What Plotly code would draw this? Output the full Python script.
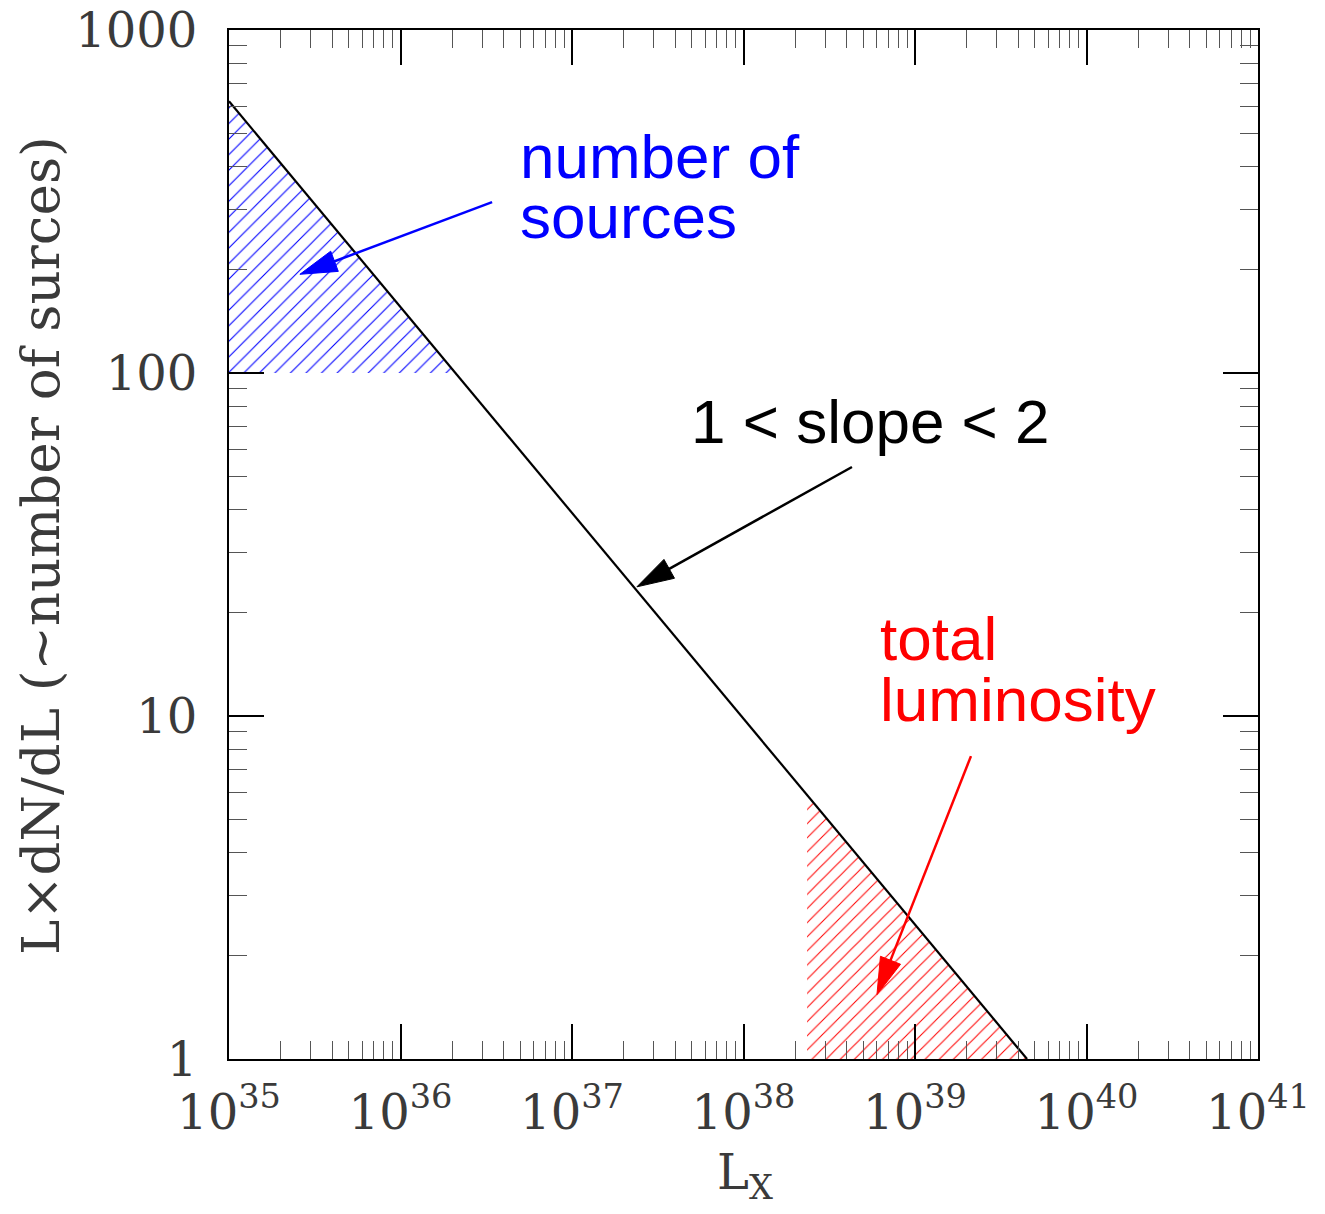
import numpy as np
import plotly.graph_objects as go

# Straight power law on log-log axes: its two end points
lum_line = [1e35, 4.5e39]
ldndl_line = [620.0, 1.0]

# Lower bound of the "number of sources" band, left edge of the "total luminosity" band
n_sources_floor = 100.0
lum_total_start = 2.35e38

# Axis ticks
x_tick_vals = [1e35, 1e36, 1e37, 1e38, 1e39, 1e40, 1e41]
x_tick_text = ["10<sup>%d</sup>" % e for e in range(35, 42)]
y_tick_vals = [1, 10, 100, 1000]
y_tick_text = ["1", "10", "100", "1000"]

X_RANGE = [35, 41]
Y_RANGE = [0, 3]

lx0, lx1 = np.log10(lum_line)
ly0, ly1 = np.log10(ldndl_line)
slope = (ly1 - ly0) / (lx1 - lx0)


def n_at(lum):
    return 10 ** (ly0 + slope * (np.log10(lum) - lx0))


def lum_at(n):
    return 10 ** (lx0 + (np.log10(n) - ly0) / slope)


fig = go.Figure()

# hatched band: number of sources
fig.add_trace(go.Scatter(
    x=[lum_line[0], lum_line[0], lum_at(n_sources_floor), lum_line[0]],
    y=[n_sources_floor, ldndl_line[0], n_sources_floor, n_sources_floor],
    mode="none", fill="toself", fillcolor="rgba(0,0,0,0)",
    fillpattern=dict(shape="/", fgcolor="#0000ff", size=11, solidity=0.1,
                     fillmode="replace"),
    hoverinfo="skip", showlegend=False,
))

# hatched band: total luminosity
fig.add_trace(go.Scatter(
    x=[lum_total_start, lum_total_start, lum_line[1], lum_total_start],
    y=[ldndl_line[1], n_at(lum_total_start), ldndl_line[1], ldndl_line[1]],
    mode="none", fill="toself", fillcolor="rgba(0,0,0,0)",
    fillpattern=dict(shape="/", fgcolor="#ff0000", size=10, solidity=0.1,
                     fillmode="replace"),
    hoverinfo="skip", showlegend=False,
))

# the power law itself
fig.add_trace(go.Scatter(
    x=lum_line, y=ldndl_line, mode="lines",
    line=dict(color="black", width=2.2),
    hoverinfo="skip", showlegend=False,
))


def to_paper(lum, n):
    return ((np.log10(lum) - X_RANGE[0]) / (X_RANGE[1] - X_RANGE[0]),
            (np.log10(n) - Y_RANGE[0]) / (Y_RANGE[1] - Y_RANGE[0]))


# arrows: (tail, tip) in data units, colour
arrows = [
    ((3.42e36, 315.0), (2.59e35, 194.0), "#0000ff"),
    ((4.29e38, 53.2), (2.39e37, 23.8), "#000000"),
    ((2.12e39, 7.64), (6.0e38, 1.54), "#ff0000"),
]
HEAD_LEN = 37 / 1029
HEAD_HALF = 10.8 / 1029

shapes = []
for (tl, tn), (hl, hn), col in arrows:
    tx, ty = to_paper(tl, tn)
    hx, hy = to_paper(hl, hn)
    dx, dy = hx - tx, hy - ty
    d = np.hypot(dx, dy)
    ux, uy = dx / d, dy / d
    bx, by = hx - ux * HEAD_LEN, hy - uy * HEAD_LEN
    px, py = -uy, ux
    shapes.append(dict(type="line", xref="paper", yref="paper",
                       x0=tx, y0=ty, x1=bx + ux * 0.004, y1=by + uy * 0.004,
                       line=dict(color=col, width=2.5)))
    path = "M %.5f,%.5f L %.5f,%.5f L %.5f,%.5f Z" % (
        hx, hy, bx + px * HEAD_HALF, by + py * HEAD_HALF,
        bx - px * HEAD_HALF, by - py * HEAD_HALF)
    shapes.append(dict(type="path", xref="paper", yref="paper", path=path,
                       fillcolor=col, line=dict(color=col, width=1)))

SANS = "Liberation Sans, Arial, sans-serif"
SERIF = "DejaVu Serif, serif"
SERIF_COLOR = "#3a3a3a"


def label(text, x, y, color):
    return dict(text=text, xref="paper", yref="paper", x=x, y=y,
                xanchor="left", yanchor="middle", showarrow=False,
                font=dict(family=SANS, size=62, color=color))


annotations = [
    label("number of", 0.2809, 0.8766, "#0000ff"),
    label("sources", 0.2809, 0.8192, "#0000ff"),
    label("1 &lt; slope &lt; 2", 0.4475, 0.6200, "#000000"),
    label("total", 0.6307, 0.4091, "#ff0000"),
    label("luminosity", 0.6307, 0.3489, "#ff0000"),
    dict(text="L×dN/dL (~number of surces)", xref="paper", yref="paper",
         x=-0.1837, y=0.4995, textangle=-90, showarrow=False,
         xanchor="center", yanchor="middle",
         font=dict(family=SERIF, size=53, color=SERIF_COLOR)),
    dict(text="L<sub>X</sub>", xref="paper", yref="paper",
         x=0.5015, y=-0.113, showarrow=False,
         xanchor="center", yanchor="middle",
         font=dict(family=SERIF, size=48, color=SERIF_COLOR)),
]

axis_common = dict(
    type="log", showgrid=False, zeroline=False, automargin=False,
    showline=True, linecolor="black", linewidth=2, mirror="allticks",
    ticks="inside", ticklen=35, tickwidth=1.5, tickcolor="black",
    tickmode="array",
    tickfont=dict(family=SERIF, size=48, color=SERIF_COLOR),
    minor=dict(ticks="inside", ticklen=18, tickwidth=1.3, tickcolor="#555",
               dtick="D1", showgrid=False),
)

fig.update_xaxes(range=X_RANGE, tickvals=x_tick_vals, ticktext=x_tick_text,
                 ticklabelstandoff=10, **axis_common)
fig.update_yaxes(range=Y_RANGE, tickvals=y_tick_vals, ticktext=y_tick_text,
                 ticklabelstandoff=20, **axis_common)

fig.update_layout(
    width=1325, height=1214, autosize=False,
    margin=dict(l=229, r=67, t=30, b=155),
    paper_bgcolor="white", plot_bgcolor="white",
    shapes=shapes, annotations=annotations,
)

fig.write_html("out.html")
